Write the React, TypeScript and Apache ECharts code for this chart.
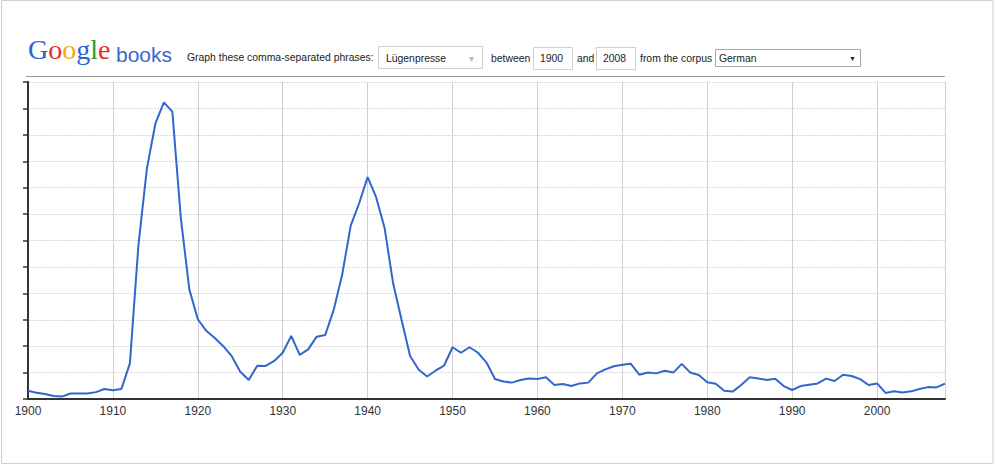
import React, { useEffect, useRef } from "react";
import * as echarts from "echarts";

const START_YEAR = 1900;
const END_YEAR = 2008;
const years: number[] = Array.from({ length: END_YEAR - START_YEAR + 1 }, (_, i) => START_YEAR + i);

// frequency of "Lügenpresse" (in units of one horizontal gridline)
const frequency: number[] = [
  0.31, 0.24, 0.19, 0.11, 0.09, 0.21, 0.21, 0.21, 0.26, 0.38, // 1900-1909
  0.33, 0.38, 1.35, 5.8, 8.72, 10.42, 11.23, 10.88, 6.85, 4.15, // 1910-1919
  3.02, 2.58, 2.31, 2.0, 1.62, 1.03, 0.72, 1.26, 1.25, 1.44, // 1920-1929
  1.75, 2.39, 1.67, 1.88, 2.36, 2.42, 3.37, 4.7, 6.55, 7.41, // 1930-1939
  8.4, 7.64, 6.47, 4.38, 2.99, 1.63, 1.12, 0.85, 1.07, 1.26, // 1940-1949
  1.96, 1.75, 1.96, 1.75, 1.38, 0.76, 0.66, 0.62, 0.72, 0.78, // 1950-1959
  0.76, 0.82, 0.53, 0.57, 0.49, 0.59, 0.62, 0.97, 1.12, 1.24, // 1960-1969
  1.3, 1.33, 0.92, 1.0, 0.97, 1.07, 1.0, 1.33, 1.0, 0.91, // 1970-1979
  0.63, 0.58, 0.31, 0.28, 0.53, 0.82, 0.78, 0.72, 0.77, 0.49, // 1980-1989
  0.34, 0.49, 0.54, 0.59, 0.77, 0.68, 0.92, 0.87, 0.75, 0.53, // 1990-1999
  0.59, 0.23, 0.29, 0.25, 0.29, 0.38, 0.45, 0.44, 0.58, // 2000-2008
];

const phrase = "Lügenpresse";
const corpus = "German";

export default function App() {
  const ref = useRef<HTMLDivElement>(null);
  useEffect(() => {
    if (!ref.current) return;
    const chart = echarts.init(ref.current, undefined, { renderer: "svg" });
    const sans = "'Liberation Sans', Arial, sans-serif";
    const labelStyle = { fill: "#222", font: `10.4px ${sans}` };
    const logoFont = "28px 'Liberation Serif', serif";
    chart.setOption({
      animation: false,
      backgroundColor: "#ffffff",
      grid: { left: 28, top: 82, right: 50, bottom: 66, containLabel: false },
      xAxis: {
        type: "value",
        min: START_YEAR,
        max: END_YEAR,
        interval: 10,
        axisLine: { show: true, lineStyle: { color: "#333", width: 2 } },
        axisTick: { show: false },
        axisLabel: {
          color: "#333",
          fontSize: 12,
          fontFamily: sans,
          margin: 6,
          showMaxLabel: false,
          formatter: (v: number) => String(v),
        },
        splitLine: { show: true, lineStyle: { color: "#cfcfcf", width: 1 } },
      },
      yAxis: {
        type: "value",
        min: 0,
        max: 12,
        interval: 1,
        axisLine: { show: true, lineStyle: { color: "#333", width: 2 } },
        axisTick: { show: true, length: 5, lineStyle: { color: "#333", width: 1.5 } },
        axisLabel: { show: false },
        splitLine: { show: true, lineStyle: { color: "#dadada", width: 1, type: [2, 1] } },
      },
      series: [
        {
          type: "line",
          name: phrase,
          data: years.map((y, i) => [y, frequency[i]]),
          showSymbol: false,
          lineStyle: { color: "#3366cc", width: 2 },
          itemStyle: { color: "#3366cc" },
        },
      ],
      graphic: [
        {
          type: "rect",
          shape: { x: 1.5, y: 0.5, width: 991.5, height: 463 },
          style: { fill: "none", stroke: "#cfcfcf", lineWidth: 1 },
          silent: true,
        },
        {
          type: "line",
          shape: { x1: 26, y1: 76.5, x2: 945, y2: 76.5 },
          style: { stroke: "#999", lineWidth: 1 },
        },
        {
          type: "text",
          x: 28,
          y: 63,
          style: {
            text: "{b|G}{r|o}{y|o}{b|g}{g|l}{r|e}",
            verticalAlign: "bottom",
            rich: {
              b: { fill: "#2f62d3", font: logoFont },
              r: { fill: "#d9321f", font: logoFont },
              y: { fill: "#e9b008", font: logoFont },
              g: { fill: "#2c9a38", font: logoFont },
            },
          },
        },
        {
          type: "text",
          x: 116,
          y: 54,
          style: { text: "books", fill: "#3b66d0", font: `21px ${sans}`, verticalAlign: "middle" },
        },
        {
          type: "text",
          x: 187,
          y: 57,
          style: { text: "Graph these comma-separated phrases:", ...labelStyle, verticalAlign: "middle" },
        },
        {
          type: "rect",
          shape: { x: 378.5, y: 46.5, width: 104, height: 22 },
          style: { fill: "#fff", stroke: "#d0d0d0", lineWidth: 1 },
        },
        {
          type: "text",
          x: 386,
          y: 58,
          style: { text: phrase, ...labelStyle, verticalAlign: "middle" },
        },
        {
          type: "text",
          x: 469,
          y: 58,
          style: { text: "▾", fill: "#bbb", font: `10px ${sans}`, verticalAlign: "middle" },
        },
        {
          type: "text",
          x: 491,
          y: 58,
          style: { text: "between", ...labelStyle, verticalAlign: "middle" },
        },
        {
          type: "rect",
          shape: { x: 533.5, y: 47.5, width: 39, height: 22 },
          style: { fill: "#fff", stroke: "#d0d0d0", lineWidth: 1 },
        },
        {
          type: "text",
          x: 540,
          y: 58.5,
          style: { text: String(START_YEAR), ...labelStyle, verticalAlign: "middle" },
        },
        {
          type: "text",
          x: 577,
          y: 58,
          style: { text: "and", ...labelStyle, verticalAlign: "middle" },
        },
        {
          type: "rect",
          shape: { x: 596.5, y: 47.5, width: 39, height: 22 },
          style: { fill: "#fff", stroke: "#d0d0d0", lineWidth: 1 },
        },
        {
          type: "text",
          x: 603,
          y: 58.5,
          style: { text: String(END_YEAR), ...labelStyle, verticalAlign: "middle" },
        },
        {
          type: "text",
          x: 640,
          y: 58,
          style: { text: "from the corpus", ...labelStyle, verticalAlign: "middle" },
        },
        {
          type: "rect",
          shape: { x: 715.5, y: 49.5, width: 145, height: 17 },
          style: { fill: "#fff", stroke: "#a8a8a8", lineWidth: 1 },
        },
        {
          type: "text",
          x: 719,
          y: 58,
          style: { text: corpus, ...labelStyle, verticalAlign: "middle" },
        },
        {
          type: "text",
          x: 849,
          y: 58,
          style: { text: "▼", fill: "#222", font: `7px ${sans}`, verticalAlign: "middle" },
        },
      ],
    });
    return () => chart.dispose();
  }, []);
  return (
    <div
      ref={ref}
      style={{ position: "absolute", left: 0, top: 0, width: 995, height: 465, background: "#fff" }}
    />
  );
}
